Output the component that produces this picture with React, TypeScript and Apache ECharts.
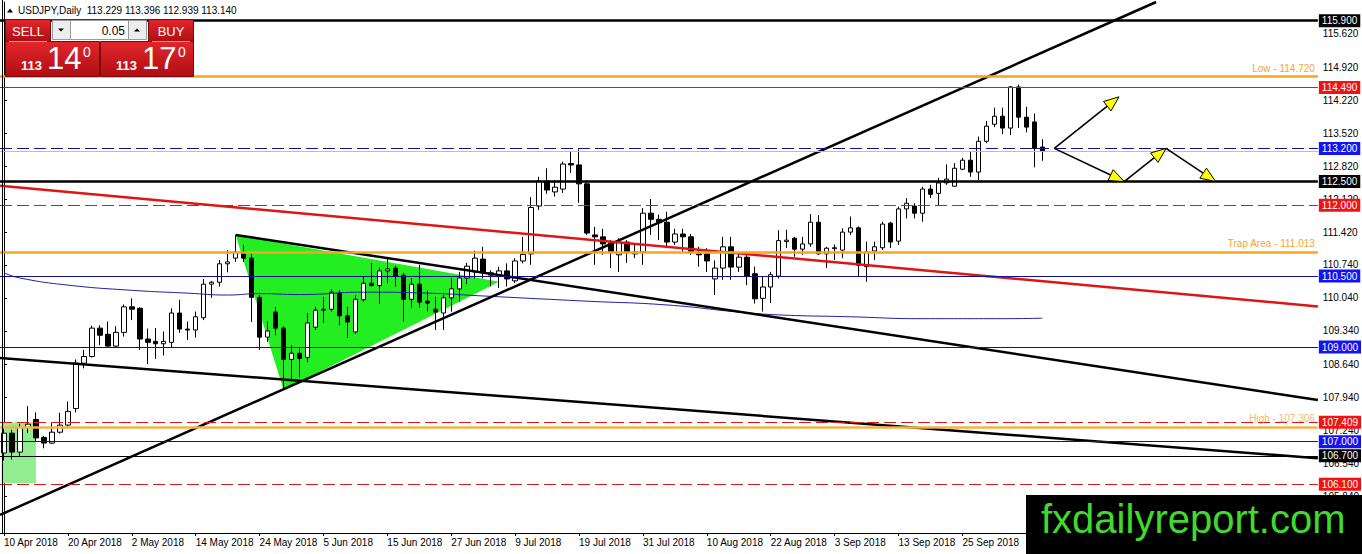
import React, { useEffect, useRef } from 'react';
import * as echarts from 'echarts';

const FONT = '"Liberation Sans", Arial, sans-serif';

// one label every 8 trading days, starting on the first bar
const dateLabels = [
  '10 Apr 2018', '20 Apr 2018', '2 May 2018', '14 May 2018', '24 May 2018', '5 Jun 2018',
  '15 Jun 2018', '27 Jun 2018', '9 Jul 2018', '19 Jul 2018', '31 Jul 2018', '10 Aug 2018',
  '22 Aug 2018', '3 Sep 2018', '13 Sep 2018', '25 Sep 2018',
];

// daily bars, [open, high, low, close]
const ohlc: number[][] = [
  [106.76, 107.30, 106.60, 107.18], [107.18, 107.25, 106.62, 106.78], [106.78, 107.38, 106.70, 107.30],
  [107.30, 107.75, 107.18, 107.37], [107.47, 107.62, 106.99, 107.08], [107.09, 107.12, 106.86, 106.97],
  [106.97, 107.39, 106.95, 107.20], [107.20, 107.61, 107.17, 107.35], [107.35, 107.85, 107.32, 107.64],
  [107.70, 108.74, 107.62, 108.66], [108.66, 108.94, 108.55, 108.80], [108.80, 109.45, 108.78, 109.40],
  [109.40, 109.46, 109.04, 109.25], [109.27, 109.54, 108.98, 109.02], [109.02, 109.44, 108.98, 109.31],
  [109.31, 109.90, 109.22, 109.85], [109.85, 110.03, 109.57, 109.80], [109.82, 109.84, 108.94, 109.17],
  [109.17, 109.39, 108.64, 109.10], [109.12, 109.40, 108.75, 109.07], [109.07, 109.33, 108.82, 109.12],
  [109.10, 109.82, 109.00, 109.72], [109.72, 110.00, 109.30, 109.38], [109.38, 109.54, 109.15, 109.36],
  [109.36, 109.75, 109.20, 109.64], [109.62, 110.44, 109.57, 110.33], [110.33, 110.40, 110.04, 110.37],
  [110.37, 110.84, 110.28, 110.76], [110.76, 111.05, 110.58, 110.80], [110.88, 111.37, 110.80, 111.01],
  [111.01, 111.16, 110.80, 110.88], [110.88, 110.98, 109.53, 110.05], [110.05, 110.10, 108.94, 109.21],
  [109.21, 109.54, 109.11, 109.34], [109.74, 109.85, 109.25, 109.40], [109.40, 109.44, 108.12, 108.74],
  [108.74, 109.04, 108.30, 108.87], [108.87, 108.98, 108.36, 108.76], [108.78, 109.72, 108.68, 109.51],
  [109.42, 109.85, 109.36, 109.78], [109.78, 110.06, 109.51, 109.80], [109.80, 110.22, 109.75, 110.16],
  [110.14, 110.20, 109.46, 109.66], [109.66, 109.85, 109.19, 109.53], [109.32, 110.10, 109.28, 110.01],
  [110.00, 110.49, 109.96, 110.35], [110.35, 110.78, 110.28, 110.30], [110.30, 110.68, 109.91, 110.61],
  [110.61, 110.86, 110.35, 110.65], [110.67, 110.72, 110.28, 110.50], [110.52, 110.57, 109.54, 110.01],
  [110.01, 110.46, 109.83, 110.33], [110.33, 110.74, 109.83, 109.95], [109.97, 110.19, 109.75, 109.93],
  [109.80, 110.06, 109.36, 109.74], [109.72, 110.10, 109.36, 110.04], [110.04, 110.46, 109.75, 110.23],
  [110.23, 110.59, 109.96, 110.46], [110.46, 110.78, 110.33, 110.71], [110.59, 111.04, 110.45, 110.88],
  [110.86, 111.12, 110.45, 110.57], [110.52, 110.62, 110.28, 110.57], [110.50, 110.70, 110.25, 110.61],
  [110.61, 110.77, 110.28, 110.44], [110.40, 110.88, 110.35, 110.82], [110.82, 111.33, 110.77, 110.96],
  [110.97, 112.17, 110.74, 111.95], [111.98, 112.60, 111.90, 112.51], [112.51, 112.78, 112.24, 112.32],
  [112.28, 112.53, 112.18, 112.38], [112.34, 112.92, 112.26, 112.87], [112.88, 113.13, 112.68, 112.85],
  [112.85, 113.18, 112.05, 112.45], [112.45, 112.53, 111.37, 111.41], [111.37, 111.54, 110.74, 111.33],
  [111.33, 111.50, 110.95, 111.18], [111.20, 111.26, 110.67, 111.01], [110.95, 111.30, 110.59, 111.22],
  [111.22, 111.26, 110.78, 111.01], [110.97, 111.20, 110.88, 111.01], [111.01, 111.94, 110.74, 111.83],
  [111.83, 112.13, 111.37, 111.70], [111.70, 111.80, 111.26, 111.63], [111.64, 111.86, 111.09, 111.22],
  [111.22, 111.50, 111.16, 111.39], [111.39, 111.50, 111.02, 111.33], [111.33, 111.39, 110.95, 111.01],
  [110.97, 111.12, 110.70, 110.95], [110.97, 111.09, 110.59, 110.82], [110.44, 110.83, 110.10, 110.67],
  [110.67, 111.33, 110.42, 111.12], [111.12, 111.33, 110.42, 110.69], [110.69, 110.99, 110.59, 110.90],
  [110.90, 110.99, 110.31, 110.50], [110.55, 110.70, 109.92, 110.02], [110.03, 110.48, 109.75, 110.27],
  [110.27, 110.59, 109.93, 110.53], [110.50, 111.47, 110.45, 111.25], [111.23, 111.48, 111.09, 111.26],
  [111.30, 111.33, 110.91, 111.07], [111.07, 111.33, 110.95, 111.18], [111.18, 111.81, 111.12, 111.64],
  [111.64, 111.79, 110.95, 110.97], [110.97, 111.12, 110.67, 111.09], [111.08, 111.17, 110.84, 111.10],
  [111.05, 111.51, 110.88, 111.43], [111.43, 111.76, 111.37, 111.52], [111.52, 111.55, 110.49, 110.73],
  [110.70, 111.23, 110.38, 111.01], [111.03, 111.23, 110.84, 111.12], [111.10, 111.65, 111.05, 111.60],
  [111.62, 111.65, 111.09, 111.22], [111.24, 111.97, 111.16, 111.92], [111.92, 112.15, 111.72, 112.04],
  [111.98, 112.04, 111.72, 111.83], [111.83, 112.39, 111.65, 112.34], [112.34, 112.43, 112.15, 112.23],
  [112.25, 112.58, 112.00, 112.47], [112.47, 112.86, 112.43, 112.55], [112.40, 112.89, 112.39, 112.78],
  [112.76, 113.00, 112.74, 112.95], [112.95, 113.13, 112.60, 112.70], [112.70, 113.45, 112.53, 113.35],
  [113.35, 113.78, 113.31, 113.67], [113.71, 114.06, 113.65, 113.88], [113.88, 114.06, 113.50, 113.63],
  [113.63, 114.52, 113.48, 114.50], [114.50, 114.55, 113.63, 113.86], [113.86, 114.08, 113.54, 113.65],
  [113.76, 113.94, 112.80, 113.20], [113.229, 113.396, 112.939, 113.140],
];

const priceTicks = [115.62, 114.92, 114.22, 113.52, 112.82, 112.12, 111.42, 110.74, 110.04, 109.34, 108.64, 107.94, 107.24, 106.54, 105.84];

// moving average, read at a few bars: [bar, price]
const maPoints = [
  [0, 110.57], [2, 110.46], [8, 110.31], [16, 110.20], [23, 110.14], [28, 110.10], [32, 110.13],
  [37, 110.11], [45, 110.16], [53, 110.14], [60, 110.08], [73, 109.97], [83, 109.89], [92, 109.74],
  [97, 109.68], [106, 109.64], [115, 109.60], [125, 109.60], [130, 109.61],
];

// horizontal levels
const levelPrices = [115.9, 114.72, 114.49, 113.2, 113.14, 112.5, 112.0, 111.013, 110.5, 109.0, 107.409, 107.306, 107.0, 106.7, 106.1];
const levelKinds = ['black', 'orange', 'red', 'blueDash', 'grey', 'black', 'redDash', 'orange', 'blue', 'blue', 'redDash', 'orangeFaint', 'blue', 'blackThin', 'redDash'];
const levelNotes: Record<string, string> = {
  '114.72': 'Low - 114.720',
  '111.013': 'Trap Area - 111.013',
  '107.306': 'High - 107.306',
};

// trend lines, [bar, price] end points
const risingLine = [[-0.5, 105.45], [144.25, 116.295]];
const redLine = [[-0.5, 112.41], [164.5, 109.86]];
const upperFallLine = [[29, 111.37], [164.5, 107.88]];
const lowerFallLine = [[-0.5, 108.77], [164.5, 106.65]];

const greenTriangle = [[29, 111.37], [35, 108.09], [62, 110.38]];
const greenBox = [[-0.3, 107.41], [4, 106.12]];

// projection arrows: [fromBar, fromPrice, toBar, toPrice]
const arrows = [
  [131.5, 113.2, 139.6, 114.29],
  [131.5, 113.2, 140.25, 112.5],
  [140.25, 112.5, 145.5, 113.2],
  [145.5, 113.2, 151.7, 112.5],
];

const kindStyle: Record<string, any> = {
  black: { color: '#000000', width: 2.5, type: 'solid', box: '#000000' },
  blackThin: { color: '#000000', width: 1, type: 'solid', box: '#000000' },
  orange: { color: '#F7A51E', width: 2.5, type: 'solid', box: null },
  orangeFaint: { color: '#F7B04A', width: 2.5, type: 'solid', box: null },
  red: { color: '#D41A1A', width: 1, type: 'solid', box: '#F01313' },
  redDash: { color: '#D41A1A', width: 1, type: [12, 5], box: '#F01313' },
  blue: { color: '#10108C', width: 1, type: 'solid', box: '#1414F0' },
  blueDash: { color: '#10108C', width: 1, type: [12, 5], box: '#1414F0' },
  grey: { color: '#BDBDBD', width: 1, type: 'solid', box: null },
};

const App: React.FC = () => {
  const chartRef = useRef<HTMLDivElement | null>(null);

  useEffect(() => {
    document.body.style.margin = '0';
    if (!chartRef.current) return;
    const chart = echarts.init(chartRef.current, undefined, { renderer: 'svg' });

    const categories = Array.from({ length: 165 }, (_, i) => String(i));

    const markLines = levelPrices.map((p, i) => {
      const s = kindStyle[levelKinds[i]];
      const note = levelNotes[String(p)];
      let label: any = { show: false };
      if (s.box) {
        label = {
          show: true, position: 'end', distance: 1, formatter: p.toFixed(3),
          color: '#ffffff', backgroundColor: s.box, padding: [1, 3, 0, 3],
          fontSize: 10, fontFamily: FONT, lineHeight: 12,
        };
      } else if (note) {
        label = {
          show: true, position: 'insideEndTop', distance: 3, formatter: note,
          color: levelKinds[i] === 'orangeFaint' ? 'rgba(240,160,50,0.75)' : '#F2A531',
          fontSize: 10, fontFamily: FONT,
        };
      }
      return { yAxis: p, lineStyle: { color: s.color, width: s.width, type: s.type }, label };
    });

    const trend = (data: number[][], color: string) => ({
      type: 'line', xAxisIndex: 1, yAxisIndex: 0, data, symbol: 'none', silent: true, z: 4,
      lineStyle: { color, width: 2.5 },
    });

    const redGrad = () => new echarts.graphic.LinearGradient(0, 0, 0, 1, [
      { offset: 0, color: '#E3262B' }, { offset: 1, color: '#AE0E13' },
    ]);

    const txt = (x: number, y: number, text: string, size: number, extra: any = {}) => ({
      type: 'text', x, y, z: 100, silent: true,
      style: { text, fill: '#ffffff', fontSize: size, fontFamily: FONT, align: 'left', verticalAlign: 'middle', ...extra },
    });

    const graphic: any[] = [
      { type: 'line', z: 50, shape: { x1: 2.5, y1: 0, x2: 2.5, y2: 533 }, style: { stroke: '#000', lineWidth: 1 } },
      { type: 'polygon', z: 100, shape: { points: [[7, 12.5], [13, 12.5], [10, 8.5]] }, style: { fill: '#000' } },
      txt(18, 10.5, 'USDJPY,Daily  113.229 113.396 112.939 113.140', 10, { fill: '#000' }),
      // one-click trading panel
      { type: 'rect', z: 100, shape: { x: 5.5, y: 19.5, width: 45, height: 22 }, style: { fill: redGrad(), stroke: '#7A0A0A', lineWidth: 1 } },
      { type: 'rect', z: 100, shape: { x: 148.5, y: 19.5, width: 45, height: 22 }, style: { fill: redGrad(), stroke: '#7A0A0A', lineWidth: 1 } },
      { type: 'rect', z: 100, shape: { x: 52.5, y: 20.5, width: 18, height: 19 }, style: { fill: '#EDEDED', stroke: '#9A9A9A', lineWidth: 1 } },
      { type: 'rect', z: 100, shape: { x: 70.5, y: 20.5, width: 58, height: 19 }, style: { fill: '#FFFFFF', stroke: '#9A9A9A', lineWidth: 1 } },
      { type: 'rect', z: 100, shape: { x: 128.5, y: 20.5, width: 18, height: 19 }, style: { fill: '#EDEDED', stroke: '#9A9A9A', lineWidth: 1 } },
      { type: 'polygon', z: 101, shape: { points: [[58, 28.5], [64, 28.5], [61, 31.5]] }, style: { fill: '#000' } },
      { type: 'polygon', z: 101, shape: { points: [[134, 31.5], [140, 31.5], [137, 28.5]] }, style: { fill: '#000' } },
      { type: 'rect', z: 100, shape: { x: 5.5, y: 41.5, width: 94, height: 35 }, style: { fill: redGrad(), stroke: '#7A0A0A', lineWidth: 1 } },
      { type: 'rect', z: 100, shape: { x: 100.5, y: 41.5, width: 93, height: 35 }, style: { fill: redGrad(), stroke: '#7A0A0A', lineWidth: 1 } },
      { type: 'line', z: 101, shape: { x1: 9, y1: 41.5, x2: 47, y2: 41.5 }, style: { stroke: '#F08A8A', lineWidth: 1 } },
      { type: 'line', z: 101, shape: { x1: 152, y1: 41.5, x2: 190, y2: 41.5 }, style: { stroke: '#F08A8A', lineWidth: 1 } },
      txt(28, 31, 'SELL', 13, { align: 'center' }),
      txt(171, 31, 'BUY', 13, { align: 'center' }),
      txt(125, 30.5, '0.05', 12, { align: 'right', fill: '#000' }),
      txt(21, 65.5, '113', 13, { fontWeight: 'bold' }),
      txt(47, 58.5, '14', 31),
      txt(83, 52, '0', 14),
      txt(116, 65.5, '113', 13, { fontWeight: 'bold' }),
      txt(142, 58.5, '17', 31),
      txt(178, 52, '0', 14),
      // watermark
      { type: 'rect', z: 200, shape: { x: 1026, y: 495, width: 336, height: 59 }, style: { fill: '#000' } },
      { type: 'text', z: 201, x: 1041, y: 519, style: { text: 'fxdailyreport.com', fill: '#3FDB2C', fontSize: 40, fontFamily: FONT, align: 'left', verticalAlign: 'middle' } },
    ];

    const option: any = {
      animation: false,
      backgroundColor: '#ffffff',
      grid: { left: -1, right: 43, top: 2, bottom: 21 },
      graphic,
      xAxis: [
        {
          type: 'category', data: categories, boundaryGap: true,
          axisLine: { show: true, lineStyle: { color: '#000', width: 1 } },
          axisTick: { show: true, interval: 7, alignWithLabel: true, length: 3, lineStyle: { color: '#000' } },
          axisLabel: {
            interval: 7, align: 'left', margin: 4, color: '#000', fontSize: 10, fontFamily: FONT,
            formatter: (_v: string, idx: number) => {
              const k = idx / 8;
              return Number.isInteger(k) && k < dateLabels.length ? dateLabels[k] : '';
            },
          },
          splitLine: { show: false },
        },
        { type: 'value', min: -0.5, max: 164.5, show: false },
      ],
      yAxis: {
        type: 'value', position: 'right', min: 105.069, max: 116.295,
        axisLine: { show: true, lineStyle: { color: '#000', width: 1 } },
        axisTick: { show: true, length: 3, customValues: priceTicks, lineStyle: { color: '#000' } },
        axisLabel: {
          customValues: priceTicks, margin: 5, color: '#000', fontSize: 10, fontFamily: FONT,
          formatter: (v: number) => v.toFixed(3),
        },
        splitLine: { show: false },
      },
      series: [
        {
          type: 'custom', xAxisIndex: 1, yAxisIndex: 0, z: 1, silent: true, clip: false,
          data: [0, 1],
          renderItem: (params: any, api: any) => {
            if (params.dataIndex === 0) {
              return { type: 'polygon', shape: { points: greenTriangle.map((p) => api.coord(p)) }, style: { fill: '#22EE22' } };
            }
            const a = api.coord(greenBox[0]);
            const b = api.coord(greenBox[1]);
            return { type: 'rect', shape: { x: a[0], y: a[1], width: b[0] - a[0], height: b[1] - a[1] }, style: { fill: '#90EE90' } };
          },
        },
        {
          type: 'candlestick', xAxisIndex: 0, yAxisIndex: 0, z: 3, barWidth: 5, silent: true,
          data: ohlc.map((d) => [d[0], d[3], d[2], d[1]]),
          itemStyle: { color: '#ffffff', color0: '#000000', borderColor: '#000000', borderColor0: '#000000', borderWidth: 1 },
        },
        {
          type: 'line', xAxisIndex: 1, yAxisIndex: 0, z: 4, data: maPoints, symbol: 'none', smooth: true,
          silent: true, clip: false,
          lineStyle: { color: '#1E1EA0', width: 1 },
          markLine: { silent: true, symbol: ['none', 'none'], animation: false, data: markLines },
        },
        trend(risingLine, '#000000'),
        trend(upperFallLine, '#000000'),
        trend(lowerFallLine, '#000000'),
        trend(redLine, '#DD1515'),
        {
          type: 'custom', xAxisIndex: 1, yAxisIndex: 0, z: 5, silent: true, clip: false,
          data: arrows, encode: { x: [0, 2], y: [1, 3] },
          renderItem: (_params: any, api: any) => {
            const a = api.coord([api.value(0), api.value(1)]);
            const b = api.coord([api.value(2), api.value(3)]);
            const dx = b[0] - a[0];
            const dy = b[1] - a[1];
            const len = Math.hypot(dx, dy);
            const ux = dx / len;
            const uy = dy / len;
            const base = [b[0] - ux * 15, b[1] - uy * 15];
            const left = [base[0] - uy * 6, base[1] + ux * 6];
            const right = [base[0] + uy * 6, base[1] - ux * 6];
            return {
              type: 'group',
              children: [
                { type: 'line', shape: { x1: a[0], y1: a[1], x2: base[0], y2: base[1] }, style: { stroke: '#000', lineWidth: 1.6 } },
                { type: 'polygon', shape: { points: [b, left, right] }, style: { fill: '#FFFF00', stroke: '#000', lineWidth: 1 } },
              ],
            };
          },
        },
      ],
    };

    chart.setOption(option);
    return () => {
      chart.dispose();
    };
  }, []);

  return <div ref={chartRef} style={{ width: '1362px', height: '554px' }} />;
};

export default App;
